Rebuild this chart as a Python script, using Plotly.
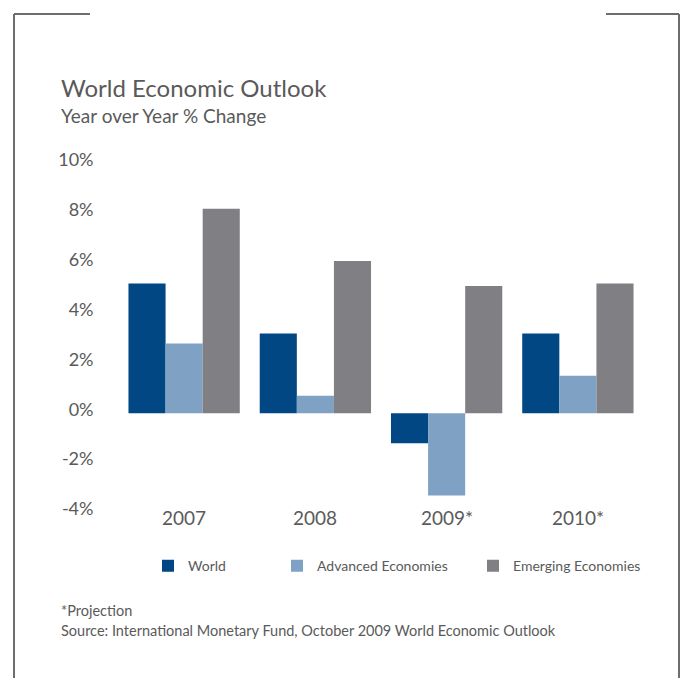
import plotly.graph_objects as go

categories = ["2007", "2008", "2009*", "2010*"]
world = [5.2, 3.2, -1.2, 3.2]
advanced = [2.8, 0.7, -3.3, 1.5]
emerging = [8.2, 6.1, 5.1, 5.2]
series_names = ["World", "Advanced Economies", "Emerging Economies"]
y_ticks = [10, 8, 6, 4, 2, 0, -2, -4]
y_tick_labels = ["10%", "8%", "6%", "4%", "2%", "0%", "-2%", "-4%"]

W, H = 683, 679
FONT = "Lato"
TXT = "#5a5a5a"
colors = ["#004784", "#7fa2c4", "#807f84"]

def px(x):
    return x / W

def py(y):
    return 1 - y / H

fig = go.Figure()
legend_ids = ["legend", "legend2", "legend3"]
for name, vals, col, lg in zip(series_names, [world, advanced, emerging], colors, legend_ids):
    fig.add_trace(go.Bar(x=categories, y=vals, name=name, marker=dict(color=col, line=dict(width=0)),
                         legend=lg))

leg_common = dict(orientation="h", yanchor="middle", xanchor="left", bgcolor="rgba(0,0,0,0)",
                  font=dict(family=FONT, size=14, color=TXT), itemwidth=30)
legend_x = [162, 291, 487]

layout = dict(
    width=W, height=H,
    margin=dict(l=0, r=0, t=0, b=0),
    paper_bgcolor="white", plot_bgcolor="white",
    barmode="group", bargap=0.152, bargroupgap=0,
    showlegend=True,
    xaxis=dict(domain=[px(118.5), px(643.5)], range=[-0.5, 3.5], showticklabels=False,
               showgrid=False, zeroline=False, showline=False, ticks="", type="category"),
    yaxis=dict(domain=[py(517.3), py(149.4)], range=[-4.2, 10.4], tickvals=y_ticks,
               ticktext=y_tick_labels, showgrid=False, zeroline=False, showline=False, ticks="",
               ticklabelstandoff=24, ticklabelshift=-4,
               tickfont=dict(family=FONT, size=18, color=TXT)),
    font=dict(family=FONT, color=TXT),
)
for i, lg in enumerate(legend_ids):
    layout[lg] = dict(leg_common, x=px(legend_x[i] - 14), y=py(566))
fig.update_layout(**layout)

annotations = [
    dict(text="World Economic Outlook", x=px(59), y=py(82), xref="paper", yref="paper",
         xanchor="left", yanchor="middle", showarrow=False, font=dict(family=FONT, size=24, color=TXT)),
    dict(text="Year over Year % Change", x=px(59), y=py(111), xref="paper", yref="paper",
         xanchor="left", yanchor="middle", showarrow=False, font=dict(family=FONT, size=19, color=TXT)),
    dict(text="*Projection", x=px(59), y=py(611), xref="paper", yref="paper",
         xanchor="left", yanchor="middle", showarrow=False, font=dict(family=FONT, size=14.5, color=TXT)),
    dict(text="Source: International Monetary Fund, October 2009 World Economic Outlook", x=px(59), y=py(631),
         xref="paper", yref="paper", xanchor="left", yanchor="middle", showarrow=False,
         font=dict(family=FONT, size=14.5, color=TXT)),
]
for i, c in enumerate(categories):
    annotations.append(dict(text=c, x=i, y=py(517), xref="x", yref="paper", xanchor="center",
                            yanchor="middle", showarrow=False, font=dict(family=FONT, size=19, color=TXT)))
fig.update_layout(annotations=annotations)

frame_col = "#6d6d6d"
lw = 2
shapes = [
    dict(type="line", x0=px(14), x1=px(90), y0=py(8), y1=py(8)),
    dict(type="line", x0=px(14), x1=px(14), y0=py(8), y1=py(H)),
    dict(type="line", x0=px(606), x1=px(679), y0=py(8), y1=py(8)),
    dict(type="line", x0=px(679), x1=px(679), y0=py(8), y1=py(H)),
]
for s in shapes:
    s.update(xref="paper", yref="paper", line=dict(color=frame_col, width=lw))
fig.update_layout(shapes=shapes)

fig.write_html("out.html")
